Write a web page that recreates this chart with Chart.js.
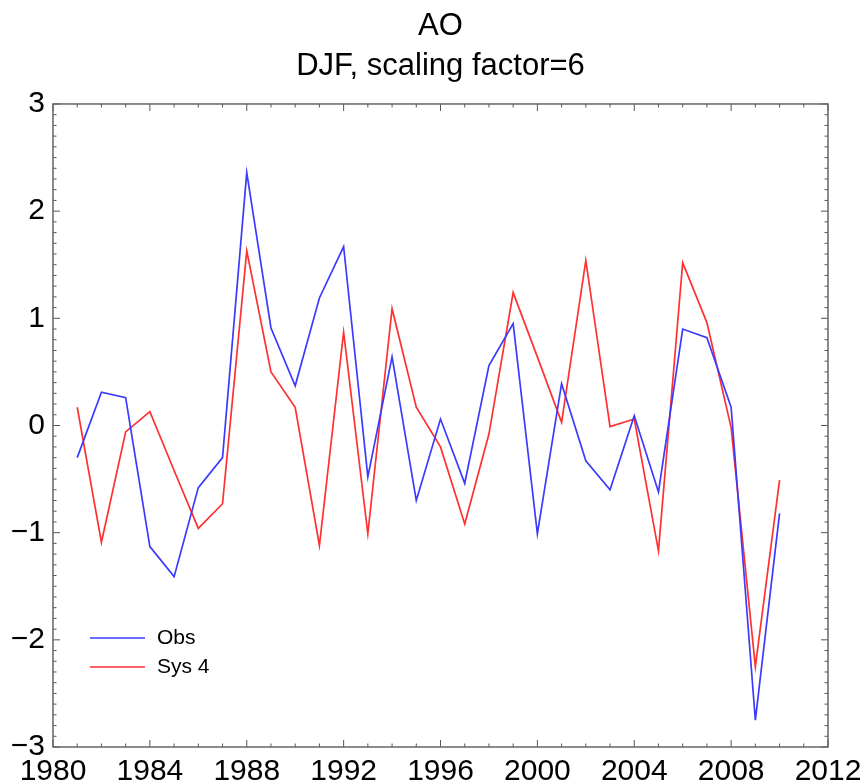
<!DOCTYPE html>
<html>
<head>
<meta charset="utf-8">
<script src="https://cdn.jsdelivr.net/npm/chart.js@4"></script>
<style>
  html, body { margin: 0; padding: 0; background: #fff; }
  #wrap { width: 862px; height: 781px; }
</style>
</head>
<body>
<div id="wrap"><canvas id="aoChart" width="862" height="781"></canvas></div>
<script>
// DJF AO index, observed vs System 4 hindcast
const years = [1981, 1982, 1983, 1984, 1985, 1986, 1987, 1988, 1989, 1990,
               1991, 1992, 1993, 1994, 1995, 1996, 1997, 1998, 1999, 2000,
               2001, 2002, 2003, 2004, 2005, 2006, 2007, 2008, 2009, 2010];
const obs = [-0.30, 0.31, 0.26, -1.13, -1.41, -0.58, -0.30, 2.36, 0.91, 0.37,
             1.19, 1.67, -0.48, 0.64, -0.70, 0.06, -0.54, 0.56, 0.95, -1.01,
             0.39, -0.33, -0.60, 0.09, -0.62, 0.90, 0.82, 0.17, -2.75, -0.82];
const sys4 = [0.17, -1.09, -0.06, 0.13, -0.42, -0.96, -0.73, 1.63, 0.50, 0.17,
              -1.12, 0.87, -1.01, 1.09, 0.17, -0.20, -0.92, -0.08, 1.24, 0.64,
              0.03, 1.54, -0.01, 0.06, -1.17, 1.52, 0.96, -0.02, -2.25, -0.51];
const seriesNames = ["Obs", "Sys 4"];
const titleLines = ["AO", "DJF, scaling factor=6"];

const FONT = "'Liberation Sans', Arial, Helvetica, sans-serif";

// box around the plot with inward ticks on all four sides
const frameTicks = {
  id: "frameTicks",
  afterDraw(chart) {
    const { ctx, chartArea: a, scales: { x, y } } = chart;
    ctx.save();
    ctx.strokeStyle = "#555";
    ctx.lineWidth = 1;
    ctx.beginPath();
    for (let yr = 1980; yr <= 2012; yr++) {
      const px = x.getPixelForValue(yr);
      const len = yr % 4 === 0 ? 7 : 3.5;
      ctx.moveTo(px, a.bottom); ctx.lineTo(px, a.bottom - len);
      ctx.moveTo(px, a.top); ctx.lineTo(px, a.top + len);
    }
    for (let k = -30; k <= 30; k++) {
      const py = y.getPixelForValue(k / 10);
      const len = k % 10 === 0 ? 7 : 3.5;
      ctx.moveTo(a.left, py); ctx.lineTo(a.left + len, py);
      ctx.moveTo(a.right, py); ctx.lineTo(a.right - len, py);
    }
    ctx.stroke();
    ctx.lineWidth = 1.5;
    ctx.strokeStyle = "#666";
    ctx.strokeRect(a.left, a.top, a.right - a.left, a.bottom - a.top);
    ctx.restore();
  }
};

// small legend in the lower left of the plot
const cornerLegend = {
  id: "cornerLegend",
  afterDraw(chart) {
    const { ctx, chartArea: a } = chart;
    ctx.save();
    ctx.font = "21px " + FONT;
    ctx.textBaseline = "middle";
    ctx.fillStyle = "#000";
    chart.data.datasets.forEach((ds, i) => {
      const yy = a.bottom - 109 + i * 29;
      ctx.strokeStyle = ds.borderColor;
      ctx.lineWidth = ds.borderWidth;
      ctx.beginPath();
      ctx.moveTo(a.left + 37, yy);
      ctx.lineTo(a.left + 92, yy);
      ctx.stroke();
      ctx.fillText(ds.label, a.left + 104, yy);
    });
    ctx.restore();
  }
};

new Chart(document.getElementById("aoChart"), {
  type: "line",
  data: {
    datasets: [
      {
        label: seriesNames[0],
        data: years.map((yr, i) => ({ x: yr, y: obs[i] })),
        borderColor: "#3b3bff",
        borderWidth: 1.7,
        pointRadius: 0,
        tension: 0
      },
      {
        label: seriesNames[1],
        data: years.map((yr, i) => ({ x: yr, y: sys4[i] })),
        borderColor: "#ff3030",
        borderWidth: 1.7,
        pointRadius: 0,
        tension: 0
      }
    ]
  },
  options: {
    responsive: false,
    animation: false,
    layout: { padding: { left: 0, right: 34, top: 0, bottom: 0 } },
    plugins: {
      legend: { display: false },
      tooltip: { enabled: false },
      title: {
        display: true,
        fullSize: false,
        text: titleLines,
        color: "#000",
        font: { family: FONT, size: 31, weight: "normal", lineHeight: 1.29 },
        padding: { top: 6, bottom: 18 }
      }
    },
    scales: {
      x: {
        type: "linear",
        min: 1980,
        max: 2012,
        grid: { display: false, drawTicks: false },
        border: { display: false },
        afterFit: (s) => {
          s.height = 34;
          // let the end labels hang over the edges instead of shrinking the plot
          s.paddingLeft = 0;
          s.paddingRight = 0;
        },
        ticks: {
          stepSize: 4,
          padding: 7,
          color: "#000",
          maxRotation: 0,
          autoSkip: false,
          font: { family: FONT, size: 30 },
          callback: (v) => String(v)
        }
      },
      y: {
        min: -3,
        max: 3,
        grid: { display: false, drawTicks: false },
        border: { display: false },
        afterFit: (s) => { s.width = 53; },
        ticks: {
          stepSize: 1,
          padding: 8,
          color: "#000",
          font: { family: FONT, size: 30 },
          callback: (v) => String(v).replace("-", "\u2212")
        }
      }
    }
  },
  plugins: [frameTicks, cornerLegend]
});
</script>
</body>
</html>
